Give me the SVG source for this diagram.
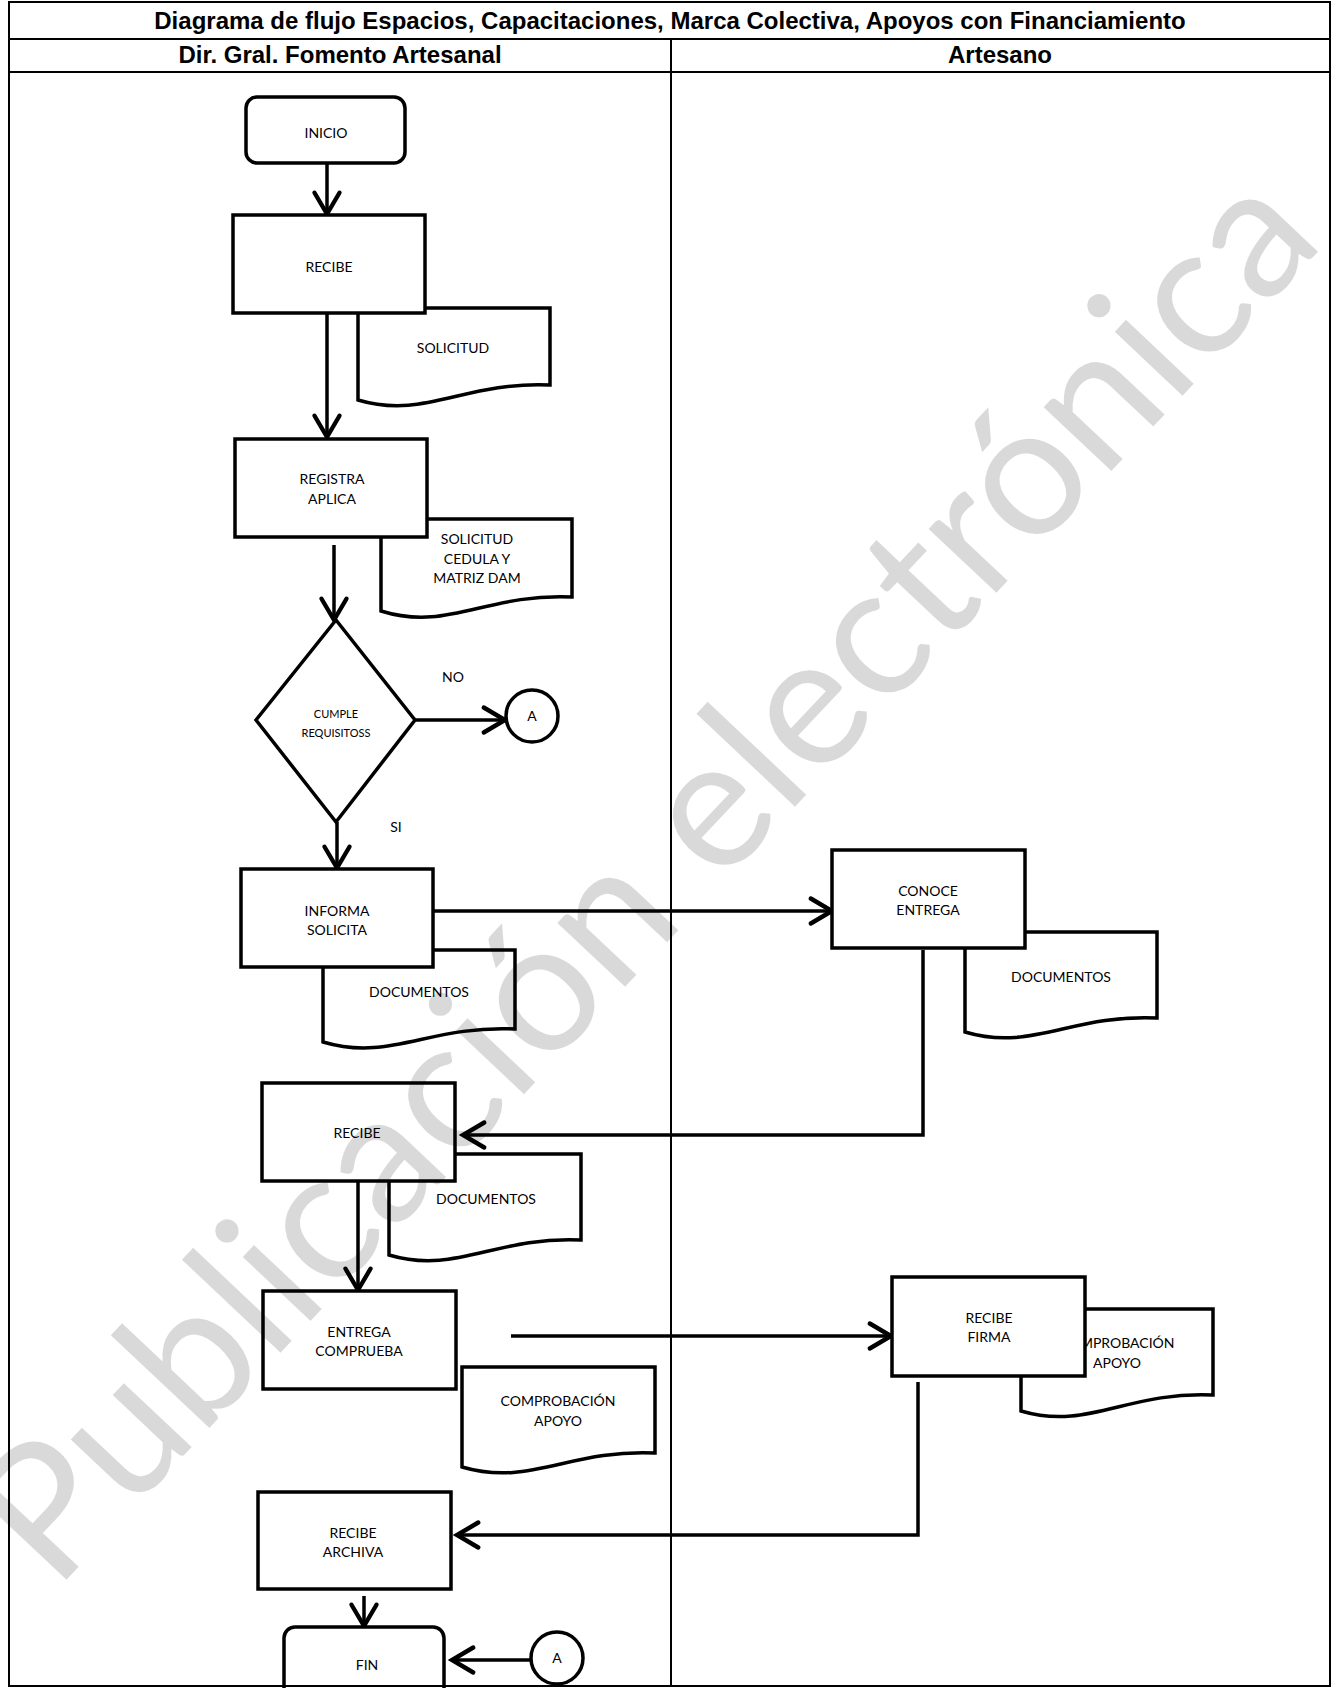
<svg xmlns="http://www.w3.org/2000/svg" width="1332" height="1688" viewBox="0 0 1332 1688">
<style>
.tbl{fill:none;stroke:#000;stroke-width:2}
.hd{font-family:"Liberation Sans",Arial,sans-serif;font-weight:bold;font-size:24px;text-anchor:middle;fill:#000}
.box{fill:#fff;stroke:#000;stroke-width:3.5}
.doc{fill:#fff;stroke:#000;stroke-width:3.5;stroke-linejoin:miter}
.t{font-family:Lato,"Open Sans",sans-serif;font-size:14px;text-anchor:middle;fill:#000}
.ts{font-family:Lato,"Open Sans",sans-serif;font-size:11px;text-anchor:middle;fill:#000}
.ln{fill:none;stroke:#000;stroke-width:3.5}
.wm{font-family:Lato,"Open Sans",sans-serif;font-size:184px;fill:#000;fill-opacity:0.15}
</style>
<defs>
<marker id="arr" markerUnits="userSpaceOnUse" markerWidth="30" markerHeight="30" viewBox="-20 -12 24 24" refX="0" refY="0" orient="auto" overflow="visible">
<path d="M-17,-10 L0,0 L-17,10" fill="none" stroke="#000" stroke-width="3.5" stroke-linecap="round"/>
</marker>
</defs>
<rect width="1332" height="1688" fill="#fff"/>

<g id="table">
<rect class="tbl" x="9" y="2" width="1321" height="1684"/>
<line class="tbl" x1="9" y1="39" x2="1330" y2="39"/>
<line class="tbl" x1="9" y1="72" x2="1330" y2="72"/>
<line class="tbl" x1="671" y1="39" x2="671" y2="1686"/>
<text class="hd" x="670" y="29">Diagrama de flujo Espacios, Capacitaciones, Marca Colectiva, Apoyos con Financiamiento</text>
<text class="hd" x="340" y="63">Dir. Gral. Fomento Artesanal</text>
<text class="hd" x="1000" y="63">Artesano</text>
</g>

<g id="connectors">
<line class="ln" x1="327" y1="163" x2="327" y2="214" marker-end="url(#arr)"/>
<line class="ln" x1="327" y1="313" x2="327" y2="437" marker-end="url(#arr)"/>
<line class="ln" x1="334" y1="545" x2="334" y2="620" marker-end="url(#arr)"/>
<line class="ln" x1="415" y1="720" x2="505" y2="720" marker-end="url(#arr)"/>
<line class="ln" x1="337" y1="822" x2="337" y2="868" marker-end="url(#arr)"/>
<line class="ln" x1="433" y1="911" x2="832" y2="911" marker-end="url(#arr)"/>
<path class="ln" d="M923,950 V1135 H463" marker-end="url(#arr)"/>
<line class="ln" x1="358" y1="1181" x2="358" y2="1290" marker-end="url(#arr)"/>
<line class="ln" x1="511" y1="1336" x2="891" y2="1336" marker-end="url(#arr)"/>
<path class="ln" d="M918,1382 V1535 H457" marker-end="url(#arr)"/>
<line class="ln" x1="364" y1="1596" x2="364" y2="1626" marker-end="url(#arr)"/>
<line class="ln" x1="531" y1="1660" x2="452" y2="1660" marker-end="url(#arr)"/>
</g>

<g id="doc-solicitud">
<path class="doc" d="M358,308 H550 V385 C464,381 425,420 358,400 Z"/>
<text class="t" x="453" y="353">SOLICITUD</text>
</g>
<g id="doc-solicitud-cedula">
<path class="doc" d="M381,519 H572 V597 C486,593 448,632 381,611 Z"/>
<text class="t" x="477" y="544">SOLICITUD</text>
<text class="t" x="477" y="564">CEDULA Y</text>
<text class="t" x="477" y="583">MATRIZ DAM</text>
</g>
<g id="doc-documentos-1">
<path class="doc" d="M323,950 H515 V1029 C429,1025 390,1062 323,1042 Z"/>
<text class="t" x="419" y="997">DOCUMENTOS</text>
</g>
<g id="doc-documentos-2">
<path class="doc" d="M965,932 H1157 V1018 C1071,1014 1032,1052 965,1032 Z"/>
<text class="t" x="1061" y="982">DOCUMENTOS</text>
</g>
<g id="doc-documentos-3">
<path class="doc" d="M389,1154 H581 V1240 C495,1236 456,1275 389,1255 Z"/>
<text class="t" x="486" y="1204">DOCUMENTOS</text>
</g>
<g id="doc-comprobacion-1">
<path class="doc" d="M462,1367 H655 V1453 C569,1449 530,1487 462,1467 Z"/>
<text class="t" x="558" y="1406">COMPROBACIÓN</text>
<text class="t" x="558" y="1426">APOYO</text>
</g>
<g id="doc-comprobacion-2">
<path class="doc" d="M1021,1309 H1213 V1395 C1127,1391 1088,1431 1021,1411 Z"/>
<text class="t" x="1117" y="1348">COMPROBACIÓN</text>
<text class="t" x="1117" y="1368">APOYO</text>
</g>

<g id="inicio">
<rect class="box" x="246" y="97" width="159" height="66" rx="11"/>
<text class="t" x="326" y="138">INICIO</text>
</g>
<g id="recibe-1">
<rect class="box" x="233" y="215" width="192" height="98"/>
<text class="t" x="329" y="272">RECIBE</text>
</g>
<g id="registra">
<rect class="box" x="235" y="439" width="192" height="98"/>
<text class="t" x="332" y="484">REGISTRA</text>
<text class="t" x="332" y="504">APLICA</text>
</g>
<g id="cumple">
<path class="box" d="M336,620 L415,720 L336,822 L256,720 Z"/>
<text class="ts" x="336" y="718">CUMPLE</text>
<text class="ts" x="336" y="737">REQUISITOSS</text>
</g>
<g id="conector-a-1">
<circle class="box" cx="532" cy="716" r="26"/>
<text class="t" x="532" y="721">A</text>
</g>
<g id="labels">
<text class="t" x="453" y="682">NO</text>
<text class="t" x="396" y="832">SI</text>
</g>
<g id="informa">
<rect class="box" x="241" y="869" width="192" height="98"/>
<text class="t" x="337" y="916">INFORMA</text>
<text class="t" x="337" y="935">SOLICITA</text>
</g>
<g id="conoce">
<rect class="box" x="832" y="850" width="193" height="98"/>
<text class="t" x="928" y="896">CONOCE</text>
<text class="t" x="928" y="915">ENTREGA</text>
</g>
<g id="recibe-2">
<rect class="box" x="262" y="1083" width="193" height="98"/>
<text class="t" x="357" y="1138">RECIBE</text>
</g>
<g id="entrega">
<rect class="box" x="263" y="1291" width="193" height="98"/>
<text class="t" x="359" y="1337">ENTREGA</text>
<text class="t" x="359" y="1356">COMPRUEBA</text>
</g>
<g id="recibe-firma">
<rect class="box" x="892" y="1277" width="193" height="99"/>
<text class="t" x="989" y="1323">RECIBE</text>
<text class="t" x="989" y="1342">FIRMA</text>
</g>
<g id="recibe-archiva">
<rect class="box" x="258" y="1492" width="193" height="97"/>
<text class="t" x="353" y="1538">RECIBE</text>
<text class="t" x="353" y="1557">ARCHIVA</text>
</g>
<g id="fin">
<rect class="box" x="284" y="1627" width="160" height="100" rx="11"/>
<text class="t" x="367" y="1670">FIN</text>
</g>
<g id="conector-a-2">
<circle class="box" cx="557" cy="1658" r="26"/>
<text class="t" x="557" y="1663">A</text>
</g>
<line class="tbl" x1="9" y1="1686" x2="1330" y2="1686"/>

<text class="wm" x="55" y="1592" transform="rotate(-46.7 55 1592)">Publicación electrónica</text>
</svg>
